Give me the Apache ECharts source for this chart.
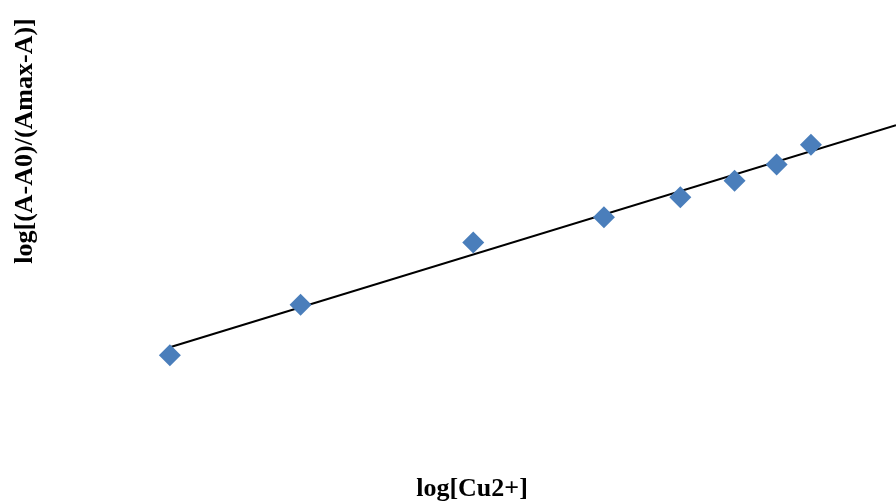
<!DOCTYPE html>
<html>
<head>
<meta charset="utf-8">
<script src="https://cdn.jsdelivr.net/npm/echarts@6/dist/echarts.min.js"></script>
<style>
  html, body { margin: 0; padding: 0; background: #ffffff; }
  #chart { width: 896px; height: 504px; }
</style>
</head>
<body>
<div id="chart"></div>
<script>
// Copper(II) titration: log of concentration vs. log of the absorbance ratio
const logCu = [-6.0, -5.699, -5.301, -5.0, -4.824, -4.699, -4.602, -4.523];
const logRatio = [-0.628, -0.502, -0.346, -0.283, -0.233, -0.192, -0.151, -0.102];

// Linear trendline end points (runs out to the right edge of the plot)
const trendX = [-6.0, -4.327];
const trendY = [-0.608, -0.053];

const xTitle = 'log[Cu2+]';
const yTitle = 'log[(A-A0)/(Amax-A)]';

const points = logCu.map((x, i) => [x, logRatio[i]]);
const trend = trendX.map((x, i) => [x, trendY[i]]);

const chart = echarts.init(document.getElementById('chart'), null, { renderer: 'canvas' });

const titleFont = {
  fontFamily: '"Liberation Serif", "Times New Roman", serif',
  fontWeight: 'bold',
  fontSize: 26,
  fill: '#000000'
};

chart.setOption({
  animation: false,
  backgroundColor: '#ffffff',
  grid: { left: 18, right: 0, top: 24, bottom: 0 },
  xAxis: {
    type: 'value',
    min: -6.35,
    max: -4.327,
    show: false
  },
  yAxis: {
    type: 'value',
    min: -1.0,
    max: 0.2,
    show: false
  },
  series: [
    {
      type: 'line',
      data: trend,
      showSymbol: false,
      symbol: 'none',
      lineStyle: { color: '#000000', width: 2 },
      z: 2
    },
    {
      type: 'scatter',
      data: points,
      symbol: 'diamond',
      symbolSize: 22,
      itemStyle: { color: '#4a7ebb', opacity: 1 },
      z: 3
    }
  ],
  graphic: [
    {
      type: 'text',
      x: 472,
      y: 489,
      style: Object.assign({ text: xTitle, align: 'center', verticalAlign: 'middle' }, titleFont)
    },
    {
      type: 'text',
      x: 25,
      y: 141,
      rotation: Math.PI / 2,
      style: Object.assign({ text: yTitle, align: 'center', verticalAlign: 'middle' }, titleFont)
    }
  ]
});
</script>
</body>
</html>
